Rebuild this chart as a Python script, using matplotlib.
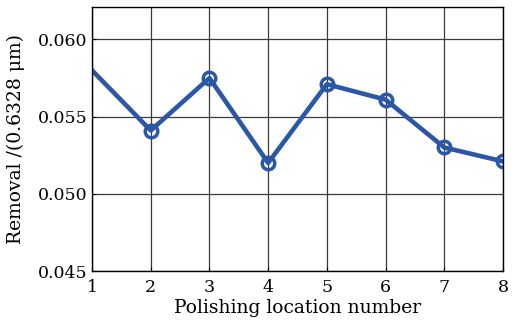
import matplotlib
matplotlib.use("Agg")
import matplotlib.pyplot as plt

location = [1, 2, 3, 4, 5, 6, 7, 8]
removal = [0.0580, 0.0541, 0.0575, 0.0520, 0.0571, 0.0561, 0.0530, 0.0521]
yticks = [0.045, 0.050, 0.055, 0.060]

plt.rcParams['font.family'] = ['DejaVu Serif']

fig = plt.figure(figsize=(5.12, 3.22), dpi=100)
ax = fig.add_axes([92/512, 51/322, 411/512, 264/322])

ax.plot(location, removal, color='#2b57a7', lw=3.3, marker='o', ms=9,
        mfc='none', mec='#2b57a7', mew=2.5, markevery=slice(1, None))

ax.set_xlim(1, 8)
ax.set_ylim(0.045, 0.0621)
ax.set_xticks(location)
ax.set_yticks(yticks)
ax.set_yticklabels(['%.3f' % v for v in yticks])
ax.grid(True, color='#3a3a3a', lw=0.9)
ax.tick_params(direction='in', length=3, labelsize=12.5, top=False, right=False)
ax.tick_params(axis='x', pad=6)
for s in ax.spines.values():
    s.set_linewidth(1.0)

ax.set_xlabel('Polishing location number', fontsize=13.5, labelpad=2)
ax.set_ylabel('Removal /(0.6328 \u03bcm)', fontsize=13.5, labelpad=9)

fig.savefig('out.png', dpi=100)
